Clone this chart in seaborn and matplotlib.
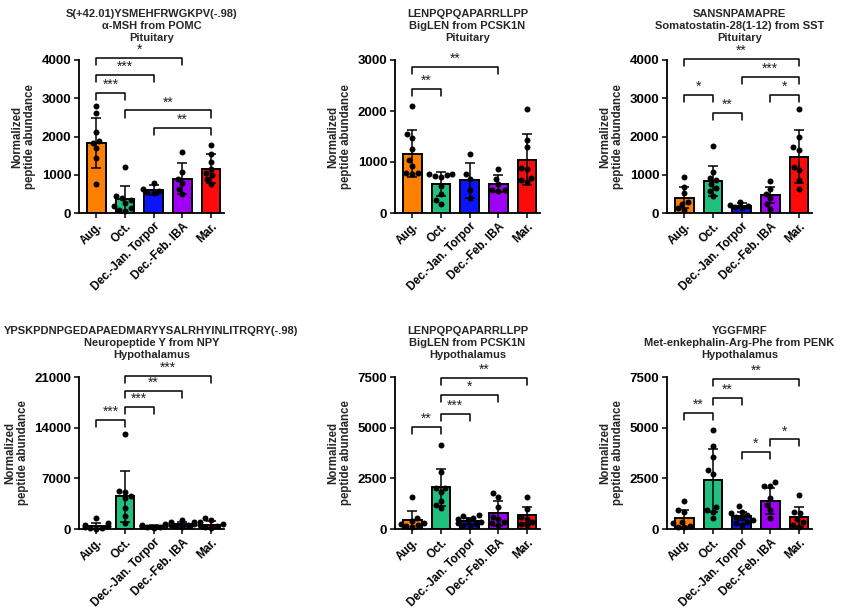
import numpy as np
import pandas as pd
import matplotlib
matplotlib.use("Agg")
import matplotlib.pyplot as plt
import seaborn as sns

sns.set_style("ticks")
plt.rcParams["font.family"] = ["Liberation Sans", "DejaVu Sans"]
plt.rcParams["font.weight"] = "bold"

groups = ["Aug.", "Oct.", "Dec.-Jan. Torpor", "Dec.-Feb. IBA", "Mar."]
colors = ["#FF8000", "#20C07F", "#0A14FF", "#A000F5", "#FF0A0A"]

# ---- Panel 1: alpha-MSH, Pituitary
p1_title = ["S(+42.01)YSMEHFRWGKPV(-.98)", "α-MSH from POMC", "Pituitary"]
p1_means = [1830, 357, 593, 898, 1159]
p1_sds = [650, 358, 130, 400, 383]
p1_aug = [2790, 2620, 2110, 1880, 1830, 1690, 1430, 750]
p1_oct = [1200, 450, 400, 330, 260, 180, 120, 80, 60]
p1_torpor = [790, 640, 580, 540, 510]
p1_iba = [1600, 1080, 880, 780, 630, 500]
p1_mar = [1780, 1530, 1330, 1160, 1050, 990, 880, 760]
p1_yticks = [0, 1000, 2000, 3000, 4000]
p1_sig = [(0, 3, 4060, "*"), (0, 2, 3610, "***"), (0, 1, 3150, "***"),
          (1, 4, 2680, "**"), (2, 4, 2220, "**")]

# ---- Panel 2: BigLEN, Pituitary
p2_title = ["LENPQPQAPARRLLPP", "BigLEN from PCSK1N", "Pituitary"]
p2_means = [1163, 575, 640, 575, 1046]
p2_sds = [455, 235, 347, 164, 496]
p2_aug = [2100, 1540, 1480, 1250, 1030, 930, 790, 780, 770]
p2_oct = [770, 760, 740, 720, 700, 520, 370, 250, 180]
p2_torpor = [1150, 760, 660, 460, 290]
p2_iba = [860, 670, 560, 460, 450, 440]
p2_mar = [2030, 1440, 1290, 880, 860, 690, 650, 600]
p2_yticks = [0, 1000, 2000, 3000]
p2_sig = [(0, 3, 2860, "**"), (0, 1, 2440, "**")]

# ---- Panel 3: Somatostatin-28(1-12), Pituitary
p3_title = ["SANSNPAMAPRE", "Somatostatin-28(1-12) from SST", "Pituitary"]
p3_means = [401, 845, 192, 479, 1473]
p3_sds = [279, 392, 61, 209, 697]
p3_aug = [950, 690, 510, 280, 230, 120, 80]
p3_oct = [1750, 1060, 920, 860, 760, 650, 580, 440]
p3_torpor = [290, 200, 170, 140, 160]
p3_iba = [830, 620, 500, 390, 240, 110]
p3_mar = [2720, 1980, 1720, 1650, 1210, 1120, 860, 640]
p3_yticks = [0, 1000, 2000, 3000, 4000]
p3_sig = [(0, 4, 4020, "**"), (2, 4, 3550, "***"), (0, 1, 3080, "*"),
          (3, 4, 3080, "*"), (1, 2, 2610, "**")]

# ---- Panel 4: Neuropeptide Y, Hypothalamus
p4_title = ["YPSKPDNPGEDAPAEDMARYYSALRHYINLITRQRY(-.98)", "Neuropeptide Y from NPY", "Hypothalamus"]
p4_means = [450, 4513, 420, 680, 620]
p4_sds = [430, 3546, 150, 300, 430]
p4_aug = [1470, 780, 500, 350, 250, 180, 120, 60]
p4_oct = [13170, 5250, 5160, 4600, 4240, 2950, 1750, 830]
p4_torpor = [700, 600, 520, 450, 400, 350, 300, 250, 200]
p4_iba = [1250, 1000, 900, 800, 700, 600, 500, 350, 250]
p4_mar = [1470, 1200, 900, 650, 500, 350, 250, 150]
p4_yticks = [0, 7000, 14000, 21000]
p4_sig = [(1, 4, 21180, "***"), (1, 3, 19070, "**"), (1, 2, 16900, "***"),
          (0, 1, 15010, "***")]

# ---- Panel 5: BigLEN, Hypothalamus
p5_title = ["LENPQPQAPARRLLPP", "BigLEN from PCSK1N", "Hypothalamus"]
p5_means = [460, 2056, 411, 773, 690]
p5_sds = [445, 921, 150, 609, 412]
p5_aug = [1600, 560, 400, 300, 250, 200, 150, 100]
p5_oct = [4130, 2830, 2040, 2000, 1810, 1380, 1180, 1020]
p5_torpor = [700, 620, 550, 490, 430, 360, 300, 250, 200, 150]
p5_iba = [1760, 1600, 1100, 610, 500, 360, 280, 200]
p5_mar = [1600, 990, 610, 500, 360, 250, 200]
p5_yticks = [0, 2500, 5000, 7500]
p5_sig = [(1, 4, 7470, "**"), (1, 3, 6610, "*"), (1, 2, 5660, "***"),
          (0, 1, 5030, "**")]

# ---- Panel 6: Met-enkephalin-Arg-Phe, Hypothalamus
p6_title = ["YGGFMRF", "Met-enkephalin-Arg-Phe from PENK", "Hypothalamus"]
p6_means = [526, 2401, 641, 1398, 608]
p6_sds = [412, 1563, 214, 641, 494]
p6_aug = [1400, 940, 850, 360, 280, 160, 100, 80]
p6_oct = [4890, 4110, 3570, 2910, 2710, 1100, 940, 850, 530]
p6_torpor = [1130, 860, 780, 690, 600, 530, 450, 360, 300, 200]
p6_iba = [2300, 2140, 2100, 1510, 1180, 940, 530]
p6_mar = [1680, 860, 770, 500, 360, 200, 120]
p6_yticks = [0, 2500, 5000, 7500]
p6_sig = [(1, 4, 7400, "**"), (1, 2, 6460, "**"), (0, 1, 5740, "**"),
          (3, 4, 4420, "*"), (2, 3, 3780, "*")]

panels = [
    (p1_title, p1_means, p1_sds, [p1_aug, p1_oct, p1_torpor, p1_iba, p1_mar], p1_yticks, p1_sig),
    (p2_title, p2_means, p2_sds, [p2_aug, p2_oct, p2_torpor, p2_iba, p2_mar], p2_yticks, p2_sig),
    (p3_title, p3_means, p3_sds, [p3_aug, p3_oct, p3_torpor, p3_iba, p3_mar], p3_yticks, p3_sig),
    (p4_title, p4_means, p4_sds, [p4_aug, p4_oct, p4_torpor, p4_iba, p4_mar], p4_yticks, p4_sig),
    (p5_title, p5_means, p5_sds, [p5_aug, p5_oct, p5_torpor, p5_iba, p5_mar], p5_yticks, p5_sig),
    (p6_title, p6_means, p6_sds, [p6_aug, p6_oct, p6_torpor, p6_iba, p6_mar], p6_yticks, p6_sig),
]

W, H = 842, 613
fig = plt.figure(figsize=(W / 100, H / 100), dpi=100)

col_left_px = [79, 395, 667]
row_top_px = [60, 377]
row_bot_px = [213, 529]
ax_w_px = 145
xlim = (-0.6, 4.45)

for k, (title, means, sds, pts, yticks, sig) in enumerate(panels):
    r, c = divmod(k, 3)
    left = col_left_px[c] / W
    bottom = 1 - row_bot_px[r] / H
    height = (row_bot_px[r] - row_top_px[r]) / H
    ax = fig.add_axes([left, bottom, ax_w_px / W, height])
    ymax = yticks[-1]
    ax.set_ylim(0, ymax)

    sns.barplot(x=groups, y=means, hue=groups, palette=colors, legend=False,
                order=groups, hue_order=groups, width=0.65, edgecolor="black",
                linewidth=1.4, errorbar=None, saturation=1, ax=ax, zorder=2)
    ax.errorbar(np.arange(len(groups)), means, yerr=sds, fmt="none",
                ecolor="black", elinewidth=1.1, capsize=3.6, capthick=1.1, zorder=3)

    df = pd.DataFrame({
        "group": [g for g, p in zip(groups, pts) for _ in p],
        "value": [v for p in pts for v in p],
    })
    sns.swarmplot(data=df, x="group", y="value", order=groups, color="black",
                  size=4.3, ax=ax, zorder=4, warn_thresh=1, clip_on=False)

    ax.set_xlim(*xlim)
    ax.set_ylim(0, ymax)
    ax.set_yticks(yticks)
    ax.set_yticklabels([str(t) for t in yticks], fontsize=9.5, fontweight="bold")
    ax.set_xticks(range(len(groups)))
    ax.set_xticklabels(groups, rotation=45, ha="right", rotation_mode="anchor",
                       fontsize=8.3, fontweight="bold")
    ax.set_xlabel("")
    ax.set_ylabel("Normalized\npeptide abundance", fontsize=8.3, fontweight="bold",
                  linespacing=1.1, labelpad=4)
    ax.set_title("\n".join(title), fontsize=8, fontweight="bold", pad=14,
                 linespacing=1.2)
    sns.despine(ax=ax)
    for s in ["left", "bottom"]:
        ax.spines[s].set_linewidth(1.3)
        ax.spines[s].set_color("black")
    ax.tick_params(axis="both", length=3.5, width=1.1, color="black",
                   labelcolor="black", pad=2)

    leg = 0.046 * ymax
    for i, j, y, lab in sig:
        ax.plot([i, i, j, j], [y - leg, y, y, y - leg], color="black", lw=1.1,
                clip_on=False, zorder=5)
        ax.annotate(lab, xy=((i + j) / 2, y), xytext=(0, 0.8),
                    textcoords="offset points", ha="center", va="bottom",
                    fontsize=10, fontweight="normal", color="#222222",
                    annotation_clip=False)

fig.savefig("out.png", dpi=100)
